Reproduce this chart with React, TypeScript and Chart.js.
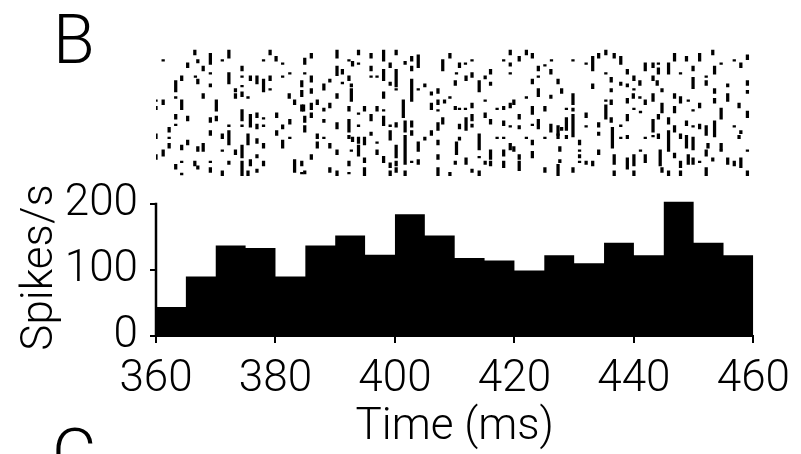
import React, { useEffect, useRef } from "react";
import { Chart, registerables } from "chart.js";

Chart.register(...registerables);

// Histogram (5 ms bins)
const binStarts = [360, 365, 370, 375, 380, 385, 390, 395, 400, 405, 410, 415, 420, 425, 430, 435, 440, 445, 450, 455];
const binWidth = 5;
const rates = [44, 90, 137, 133, 90, 137, 152, 123, 184, 152, 118, 114, 99, 122, 110, 141, 122, 203, 141, 122];

const xTicks = [360, 380, 400, 420, 440, 460];
const yTicks = [0, 100, 200];

// Raster ticks: [time (ms), trial start, trial end]
const rasterA: [number, number, number][] = [
  [366.5,0,1.5],[369.1,1,4.5],[372.2,0,2.5],[379.1,0,1.5],[380.1,2,3.5],[361.2,3,3.5],[365.3,4,5.5],[367.0,3,4],[367.9,5,6.5],[371.1,3,3.5],
  [378.0,3,3.5],[381.2,4,4.5],[374.4,5,6.5],[364.3,8,9.5],[366.6,8,8.5],[367.0,9,10.5],[369.1,7,7.5],[372.2,7,10.5],[374.4,8,8.5],[374.4,11,11.5],
  [375.8,8,9.5],[376.9,8,10.5],[378.0,9,13],[379.1,8,9.5],[379.1,12,12.5],[381.2,8,8.5],[382.4,7,7.5],[363.3,9.5,13],[369.1,10.5,11.5],[373.3,12,13],
  [367.9,13.5,15],[363.3,14.5,15],[373.3,13.5,15],[374.4,13,14.5],[375.4,14.5,15],[382.3,13.5,15],[360.0,15.5,16],[360.0,17.5,18.5],[361.2,15.5,17],[364.3,15.5,18.5],
  [370.1,15.5,19],[383.2,15.5,17],[363.3,20,21.5],[365.3,20.5,22],[369.1,21,22.5],[370.1,20.5,22],[374.4,18.5,22],[375.8,20,24],[376.9,19.5,21],[378.0,21,21.5],
  [380.2,19.5,21],[382.4,21.5,23],[363.3,23,23.5],[372.2,23.2,23.8],[374.4,23.2,23.8],[376.9,23,24.5],[378.0,23.2,23.8],[381.2,23.2,24.5],[362.2,24,25.5],[360.0,26,27.5],
  [362.2,27,27.5],[369.1,25,26.5],[371.1,26,27.5],[372.2,25,29.5],[375.4,26,29.5],[376.9,27.5,29],[380.2,25,26.5],[382.4,27,27.5],[362.2,29,30.5],[364.3,29.5,31],
  [365.3,28,29.5],[367.0,30,31.5],[367.9,29,31.5],[371.1,31,31.5],[373.3,31,32.5],[374.4,29.5,33.5],[378.0,29,30.5],[381.2,28,30.5],[361.2,31,33],[360.0,32.5,34],
  [376.9,32.5,33.5],[363.3,35.5,37],[364.3,34.5,35],[366.5,34.5,36],[367.0,36,37],[369.1,34.5,35],[369.1,36.5,38],[372.2,34.5,35.5],[374.4,34.5,39],[375.8,34,36],
  [375.4,37.5,39],[376.9,37,38],[378.0,34.5,36],[383.2,34,38],[364.3,38.2,38.8],[371.1,37.5,39],
];

const rasterB: [number, number, number][] = [
  [384.9,2.5,4.5],[386.0,1,2.5],[390.3,0,2.5],[392.3,3,3.5],[392.9,3.5,5],[393.9,0,1.5],[393.9,4,4.5],[396.0,1,2.5],[398.1,0,3.5],[400.2,0,1.5],
  [402.8,2,3.5],[401.7,3.5,4.5],[403.9,1.5,5.5],[408.0,3,6.5],[384.9,7,7.5],[386.0,8,10],[390.3,5,8],[391.2,6,7.5],[392.3,8,9.5],[396.0,5,6.5],
  [396.0,8,8.5],[397.0,8,8.5],[398.1,6,9.5],[399.2,4,5.5],[400.2,6,11.5],[402.8,5,6.5],[389.1,9,10],[388.1,10.5,12.5],[384.4,9.5,11.5],[391.2,10,10.5],
  [392.7,10.5,11.5],[399.2,10,11],[400.2,12,12.5],[402.8,9,16],[403.9,12,12.5],[405.0,10.5,11.5],[384.4,12.5,14.5],[386.0,12,13.5],[390.3,13.5,15],[392.7,12,16],
  [398.1,13,15],[401.4,15.5,21],[406.1,13,14],[407.2,12,13.5],[408.3,15.5,16.5],[407.2,15.5,17],[384.4,17,19],[384.7,17,19],[386.0,16.5,18.5],[387.0,15.5,17],
  [388.1,18,19],[389.1,16.5,18],[392.3,17.5,19],[393.9,19.5,20],[394.9,17.5,19],[397.0,17.5,19],[398.1,18.5,19],[406.1,16.5,18.5],[407.2,18.5,19],[386.0,19.5,21],
  [384.9,20.5,22.5],[388.1,21.5,22.5],[390.3,22.5,24.5],[392.3,21.5,25.5],[393.9,23.2,23.8],[396.0,20,22],[398.1,20.5,23.5],[399.2,23.2,23.8],[400.2,22.5,24],[401.7,22,25.5],
  [402.8,22,24],[407.2,22.5,25],[408.0,21,23],[384.9,23.5,25.5],[387.0,26,27.5],[388.1,27,27.5],[387.0,28.5,30.5],[389.1,29,30.5],[392.3,26.5,27.5],[392.9,27,28.5],
  [393.9,27,29],[394.9,27,29.5],[396.0,25.5,26.5],[397.0,28.5,29],[399.2,25,28],[401.7,26.5,35.5],[402.8,25,26.5],[403.9,28.5,31.5],[405.0,27,28],[406.1,25,26.5],
  [407.2,28,29.5],[390.3,31,32.5],[392.7,31,31.5],[393.9,29.5,33],[397.0,31,32.5],[400.2,29.5,33.5],[386.0,32.5,34],[384.4,34.5,36],[392.3,34.5,36],[394.9,33.5,35],
  [398.1,33,35],[399.2,35,36.5],[400.2,34.5,36],[402.8,34.5,35],[403.9,34,35.5],[407.2,32.5,34],[384.4,38,38.5],[384.9,37.5,38.5],[389.1,36.5,38],[390.3,37.5,39],
  [392.3,38,38.5],[394.9,36.5,39],[399.2,37.5,39],[400.2,36.5,38],[401.7,37.5,39],[407.2,36.5,39],
];

const rasterC: [number, number, number][] = [
  [409.2,1,2.5],[410.8,4,5.5],[411.8,4,4.5],[412.9,3,3.5],[419.3,0,1.5],[420.8,2,3.5],[422.0,0,1.5],[423.0,1,2.5],[418.2,3,3.5],[419.3,4,5],
  [426.2,3,3.5],[429.8,3,3.5],[432.0,4,4.5],[433.1,2,6.5],[410.3,7,7.5],[411.9,8,9.5],[412.9,7,8.5],[414.1,9.5,13],[415.1,8,9],[416.0,6,7.5],
  [419.3,7,7.5],[424.0,5,6.5],[425.1,4.5,5],[426.1,6,7.5],[410.1,9.5,11],[416.0,10,11],[423.0,9,10.5],[424.0,8,8.5],[427.3,9,10.5],[424.0,12,14.5],
  [427.9,12,13.5],[409.2,14.5,15],[415.1,15.5,16],[419.9,15.5,17],[419.3,16.5,18],[422.0,14.5,15],[426.1,14,15],[429.8,13.5,17],[433.1,10.5,12],[410.1,17.5,18.5],
  [410.8,18,18.5],[411.8,18,18.5],[412.9,16.5,18],[417.1,18,18.5],[418.2,17.5,18.5],[423.0,17.5,20],[425.1,17.5,19],[428.7,18,18.5],[429.8,18,19],[415.1,19.5,21],
  [420.8,20,21.5],[432.0,19.5,21],[410.8,23,24.5],[411.9,21,25],[412.9,20,22],[412.9,23,24],[416.0,21.5,23],[418.2,22,23.5],[419.3,23.5,24],[420.8,23.5,24.5],
  [423.0,23,23.5],[424.0,21.5,24.5],[426.1,23,25.5],[427.3,23.5,26.5],[427.9,24,25],[428.7,21,25],[429.8,20,27],[432.0,23.5,24],[410.8,27,28],[410.3,28.5,32.5],
  [414.1,26,31],[417.1,27,27.5],[418.2,27,27.5],[419.3,29,31],[419.9,30,31.5],[422.0,27,27.5],[423.0,28,29.5],[425.1,27,27.5],[427.3,26,27.5],[428.7,26.5,27.5],
  [430.9,28,29.5],[416.0,31,34],[418.2,31,33],[414.1,33,33.5],[415.1,34.5,35.5],[420.8,32.5,34],[423.0,31.5,33.5],[427.6,30,31.5],[430.9,31,31.5],[430.9,32.5,33.5],
  [410.1,34.5,35.5],[411.9,33.5,35.5],[412.9,37,38],[414.1,37.5,39],[416.0,34.5,36],[418.2,34.5,36.5],[420.8,34.5,37.5],[425.1,36.5,38],[427.6,34,35],[427.3,35.5,39],
  [429.8,36.5,38],[430.9,34.5,35],[432.0,34.5,35.5],[433.1,34.5,36],[409.2,38,39],
];

const rasterD: [number, number, number][] = [
  [434.1,1,2.5],[435.3,0,1.5],[436.7,1,2.5],[437.8,2,4.5],[441.9,4,6.5],[443.2,4,5.5],[444.1,4,4.5],[446.8,1,3.5],[448.8,2,3.5],[451.0,1,3.5],
  [453.2,0,1.5],[454.6,4,4.5],[456.8,3,3.5],[457.9,4,5.5],[459.0,1.5,3],[435.3,7,7.5],[438.9,6,7.5],[444.1,5.5,7.5],[445.8,4,7.5],[447.8,7,7.5],
  [449.9,5,6.5],[452.1,8,8.5],[453.5,5,7.5],[436.2,8.5,10],[437.8,10,11],[438.9,10.5,11.5],[440.0,8,9.5],[440.0,12,12.5],[441.0,9.5,11],[443.2,8,9.5],
  [443.9,9.5,11],[444.7,12,13],[449.9,8.5,12],[452.1,9.5,11],[455.7,10.5,11.5],[459.0,9.5,11],[459.0,12.5,13.5],[436.2,12,13],[439.9,13.5,15],[441.0,14.5,15],
  [441.9,15.5,17],[443.2,13.5,16],[446.8,13.5,15],[447.8,14.5,16.5],[449.1,15.5,16],[451.0,16.5,18],[453.5,12,13.5],[455.7,13.5,16],[457.6,16.5,18],[435.3,15.5,16],
  [436.2,15.5,17],[438.9,15,16.5],[440.0,18,18.5],[441.1,19,19.5],[444.7,16.5,19.5],[446.8,17.5,19.5],[449.9,18.5,19],[453.5,15,16.5],[454.6,18,21.5],[459.0,19,21],
  [435.3,17,21.5],[436.2,21,22.5],[438.9,20,22],[443.2,21.5,25.5],[444.1,20,21.5],[445.8,21,23],[434.1,22.5,24],[437.8,23.2,23.8],[446.8,23.5,25.5],[448.8,22,23.5],
  [449.9,23.5,24],[451.0,23,24.5],[452.1,23.5,26.5],[453.5,22,27],[456.8,23.5,24],[434.1,25.5,26.5],[436.4,24,30.5],[437.8,27,27.5],[438.9,26.5,27.5],[441.9,27,27.5],
  [443.2,26.5,27],[444.1,26,27.5],[445.8,25,31.5],[447.8,26,27.5],[448.8,26.5,30.5],[449.9,27,31],[452.4,29,30.5],[454.6,29,31],[457.6,26.5,27.5],[457.9,25,26],
  [459.0,31,31.5],[434.1,31,32.5],[436.7,32.5,35.5],[438.9,33.5,37],[440.0,32.5,36],[441.1,31,31.5],[441.9,32.5,35],[444.4,31,36],[446.8,32,33.5],[447.8,34.5,36.5],
  [449.1,32.5,35.5],[449.9,33.5,35.5],[451.0,34.5,35],[452.1,31,33],[453.2,33.5,34.5],[454.6,31,31.5],[455.7,33.5,35.5],[456.8,34.5,36],[457.9,33.5,36.5],[436.7,37.5,39],
  [440.0,37.5,39],[444.7,36.5,38],[445.8,37.5,39],[447.8,37.5,39],[452.1,36.5,39],[459.0,37.5,39],
];

const FONT = 'Roboto, "Liberation Sans", Arial, sans-serif';

export default function App() {
  const ref = useRef<HTMLCanvasElement>(null);

  useEffect(() => {
    const canvas = ref.current;
    if (!canvas) return;

    const hist = binStarts.map((x, i) => ({ x, y: rates[i] }));
    hist.push({ x: binStarts[binStarts.length - 1] + binWidth, y: rates[rates.length - 1] });

    const raster = [...rasterA, ...rasterB, ...rasterC, ...rasterD].map(([t, a, b]) => ({ x: t, y: [a, b] }));

    const decor = {
      id: "decor",
      afterDraw(chart: any) {
        const ctx = chart.ctx as CanvasRenderingContext2D;
        const ys = chart.scales.y;
        const left = chart.chartArea.left;
        ctx.save();
        ctx.strokeStyle = "#000";
        ctx.lineWidth = 2.5;
        ctx.beginPath();
        ctx.moveTo(left, ys.getPixelForValue(yTicks[yTicks.length - 1]) - 1);
        ctx.lineTo(left, ys.getPixelForValue(0) + 1);
        ctx.stroke();
        ctx.fillStyle = "#000";
        ctx.font = `300 44px ${FONT}`;
        ctx.textAlign = "center";
        ctx.textBaseline = "alphabetic";
        ctx.save();
        ctx.translate(52, 267.5);
        ctx.rotate(-Math.PI / 2);
        ctx.fillText("Spikes/s", 0, 0);
        ctx.restore();
        ctx.font = `300 68px ${FONT}`;
        ctx.textAlign = "left";
        ctx.fillText("B", 53, 63);
        ctx.fillText("C", 52, 477);
        ctx.restore();
      },
    };

    const chart = new Chart(canvas, {
      type: "bar",
      data: {
        datasets: [
          {
            type: "line",
            data: hist as any,
            stepped: "before",
            fill: "origin",
            backgroundColor: "#000",
            borderColor: "#000",
            borderWidth: 0,
            pointRadius: 0,
            xAxisID: "x",
            yAxisID: "y",
          } as any,
          {
            type: "bar",
            data: raster as any,
            backgroundColor: "#000",
            borderWidth: 0,
            barThickness: 2.6,
            xAxisID: "x",
            yAxisID: "yr",
          } as any,
        ],
      },
      options: {
        animation: false,
        responsive: false,
        maintainAspectRatio: false,
        layout: { padding: { top: 28, right: 40, bottom: 0, left: 0 } },
        plugins: { legend: { display: false }, tooltip: { enabled: false } },
        scales: {
          x: {
            type: "linear",
            min: xTicks[0],
            max: xTicks[xTicks.length - 1],
            offset: false,
            afterBuildTicks: (s: any) => {
              s.ticks = xTicks.map((v) => ({ value: v }));
            },
            afterFit: (s: any) => {
              s.height = 118;
            },
            grid: { offset: false, drawOnChartArea: false, drawTicks: true, tickLength: 7, lineWidth: 2, color: "#000" },
            border: { display: true, color: "#000", width: 2 },
            ticks: { font: { family: FONT, size: 44, weight: "300" }, color: "#000", padding: 11, maxRotation: 0, autoSkip: false },
            title: { display: true, text: "Time (ms)", font: { family: FONT, size: 44, weight: "300" }, color: "#000", padding: 0 },
          },
          y: {
            type: "linear",
            position: "left",
            min: 0,
            max: 450,
            afterBuildTicks: (s: any) => {
              s.ticks = yTicks.map((v) => ({ value: v }));
            },
            afterFit: (s: any) => {
              s.width = 156;
            },
            grid: { drawOnChartArea: false, drawTicks: true, tickLength: 6, lineWidth: 2, color: "#000" },
            border: { display: false },
            ticks: { font: { family: FONT, size: 44, weight: "300" }, color: "#000", padding: 12 },
          },
          yr: {
            type: "linear",
            position: "right",
            display: false,
            reverse: true,
            min: -3.6,
            max: 88.8,
          },
        },
      } as any,
      plugins: [decor],
    });

    return () => chart.destroy();
  }, []);

  return (
    <div style={{ position: "fixed", left: 0, top: 0, width: 801, height: 454, background: "#fff" }}>
      <canvas ref={ref} width={801} height={454} style={{ display: "block", width: 801, height: 454 }} />
    </div>
  );
}
